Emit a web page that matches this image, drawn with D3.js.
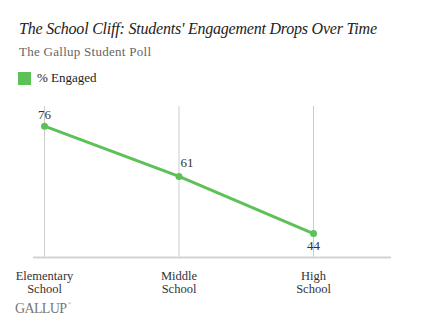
<!DOCTYPE html>
<html>
<head>
<meta charset="utf-8">
<script src="https://cdn.jsdelivr.net/npm/d3@7"></script>
<style>
  body { margin: 0; background: #fff; }
  text { font-family: Georgia, "Liberation Serif", serif; }
</style>
</head>
<body>
<script>
var categories = [["Elementary", "School"], ["Middle", "School"], ["High", "School"]];
var engaged = [76, 61, 44];
var seriesName = "% Engaged";

var w = 427,
    h = 325;

var svg = d3.select("body").append("svg")
    .attr("width", w)
    .attr("height", h);

var x = d3.scalePoint()
    .domain(d3.range(categories.length))
    .range([44.5, 313.5]);

var y = d3.scaleLinear()
    .domain([37, 82])
    .range([257, 106]);

var green = "#5cc157";

// title block
svg.append("text")
    .attr("x", 19).attr("y", 34)
    .attr("font-size", 16)
    .attr("font-style", "italic")
    .attr("fill", "#222")
    .attr("textLength", 358)
    .attr("lengthAdjust", "spacing")
    .text("The School Cliff: Students' Engagement Drops Over Time");

svg.append("text")
    .attr("x", 19).attr("y", 56)
    .attr("font-size", 13)
    .attr("fill", "#666")
    .attr("textLength", 132)
    .text("The Gallup Student Poll");

// legend
svg.append("rect")
    .attr("x", 18).attr("y", 72)
    .attr("width", 13).attr("height", 13)
    .attr("fill", green);
svg.append("text")
    .attr("x", 37).attr("y", 82)
    .attr("font-size", 13)
    .attr("fill", "#222")
    .text(seriesName);

// gridlines
svg.selectAll(".grid")
    .data(engaged)
  .enter().append("line")
    .attr("x1", function(d, i) { return x(i); })
    .attr("x2", function(d, i) { return x(i); })
    .attr("y1", 106)
    .attr("y2", 257)
    .attr("stroke", "#ccc")
    .attr("stroke-width", 1);

// baseline
svg.append("line")
    .attr("x1", 33).attr("x2", 391)
    .attr("y1", 257.5).attr("y2", 257.5)
    .attr("stroke", "#d3d3cf")
    .attr("stroke-width", 2);

var line = d3.line()
    .x(function(d, i) { return x(i); })
    .y(function(d) { return y(d); });

svg.append("path")
    .datum(engaged)
    .attr("d", line)
    .attr("fill", "none")
    .attr("stroke", green)
    .attr("stroke-width", 3);

svg.selectAll(".dot")
    .data(engaged)
  .enter().append("circle")
    .attr("cx", function(d, i) { return x(i); })
    .attr("cy", function(d) { return y(d); })
    .attr("r", 3.5)
    .attr("fill", green);

// value labels
var labelDx = [0, 8, 0],
    labelDy = [-7, -9, 16];
svg.selectAll(".val")
    .data(engaged)
  .enter().append("text")
    .attr("x", function(d, i) { return x(i) + labelDx[i]; })
    .attr("y", function(d, i) { return y(d) + labelDy[i]; })
    .attr("text-anchor", "middle")
    .attr("font-size", 13)
    .attr("fill", "#333")
    .text(function(d) { return d; });

// category labels
var cat = svg.selectAll(".cat")
    .data(categories)
  .enter().append("text")
    .attr("text-anchor", "middle")
    .attr("font-size", 12.5)
    .attr("fill", "#333");
cat.selectAll("tspan")
    .data(function(d, i) { return d.map(function(s) { return { s: s, i: i }; }); })
  .enter().append("tspan")
    .attr("x", function(d) { return x(d.i); })
    .attr("y", function(d, j) { return 280 + j * 12.5; })
    .text(function(d) { return d.s; });

// logo
svg.append("text")
    .attr("x", 15).attr("y", 313)
    .attr("font-size", 14)
    .attr("fill", "#777")
    .attr("textLength", 52)
    .text("GALLUP");
svg.append("text")
    .attr("x", 68).attr("y", 305)
    .attr("font-size", 4)
    .attr("fill", "#777")
    .text("®");
</script>
</body>
</html>
